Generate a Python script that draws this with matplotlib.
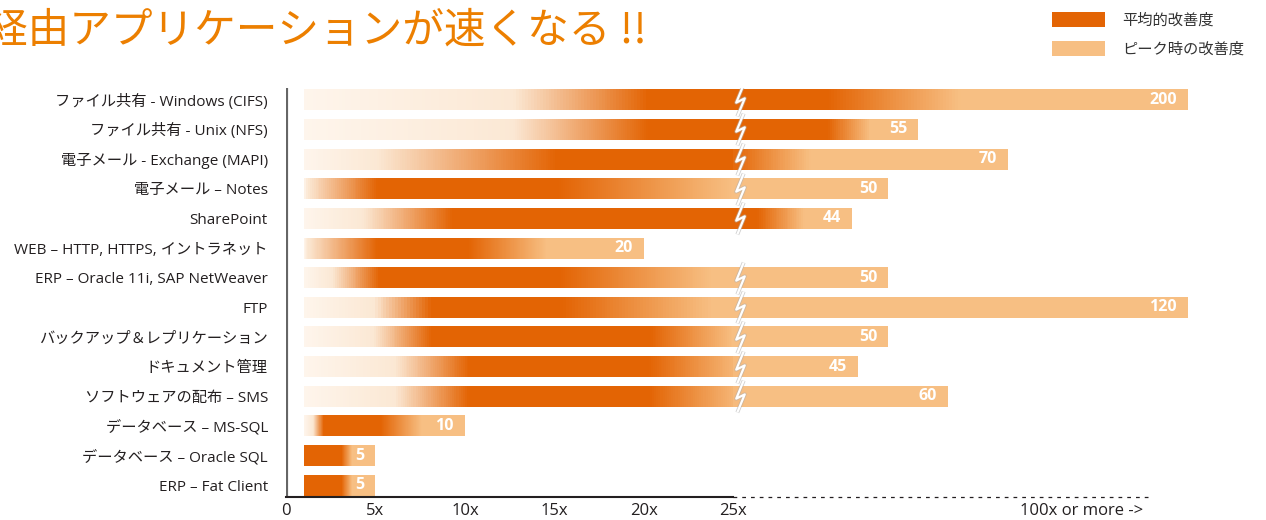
import numpy as np
import matplotlib.pyplot as plt
import matplotlib.colors as mcolors
from matplotlib.patches import Patch
from matplotlib.path import Path

plt.rcParams['font.family'] = ['Noto Sans CJK JP', 'DejaVu Sans']

## Data: applications and improvement factors (x-fold)
apps = ['ファイル共有 - Windows (CIFS)', 'ファイル共有 - Unix (NFS)',
        '電子メール - Exchange (MAPI)', '電子メール – Notes', 'SharePoint',
        'WEB – HTTP, HTTPS, イントラネット', 'ERP – Oracle 11i, SAP NetWeaver',
        'FTP', 'バックアップ＆レプリケーション', 'ドキュメント管理',
        'ソフトウェアの配布 – SMS', 'データベース – MS-SQL',
        'データベース – Oracle SQL', 'ERP – Fat Client']
peak = [200, 55, 70, 50, 44, 20, 50, 120, 50, 45, 60, 10, 5, 5]
# shading along each bar: fade in, average range (dark), where peak colour is reached
fade_in = [12.7, 12.7, 5.1, 1.2, 4.3, 1.2, 2.6, 4.9, 4.9, 6.1, 6.1, 1.5, 1.0, 1.0]
avg_lo = [20.2, 20.2, 15.1, 5.1, 9.3, 5.1, 5.2, 8.1, 8.1, 10.2, 10.2, 2.1, 1.0, 1.0]
avg_hi = [40, 40, 25, 15.2, 28.2, 10.2, 15.3, 15.5, 20.4, 20.3, 20.3, 5.3, 3.1, 3.1]
peak_from = [62, 47, 37, 25, 36, 14.6, 23.8, 23.8, 25, 26, 26, 7.6, 3.7, 3.7]

xticks = [0, 5, 10, 15, 20, 25]
xticklabels = ['0', '5x', '10x', '15x', '20x', '25x']

DARK = '#E36404'
LIGHT = '#F7BF83'
FAINT0 = '#FEF5EC'
FAINT1 = '#FBE8D4'

## Broken x axis: linear up to 25x, squeezed after, capped at 100x
BREAK, CAP = 25, 100
SQUEEZE = 0.335
GAP = 0.28

def fwd(v):
    v = np.asarray(v, dtype=float)
    return np.where(v <= BREAK, v, BREAK + GAP + (v - BREAK) * SQUEEZE)

def inv(u):
    u = np.asarray(u, dtype=float)
    return np.where(u <= BREAK, u, BREAK + np.maximum(u - BREAK - GAP, 0) / SQUEEZE)

fig = plt.figure(figsize=(12.66, 5.2), dpi=100)
ax = fig.add_axes([286 / 1266, 23 / 520, 980 / 1266, 409 / 520])
ax.set_xscale('function', functions=(fwd, inv))
ax.set_xlim(0, 113)
ax.set_ylim(len(apps) - 0.6, -0.4)

stop_rgb = np.array([mcolors.to_rgb(c) for c in [FAINT0, FAINT1, DARK, DARK, LIGHT, LIGHT]])

# zigzag break marker
zz = Path([(3, 15), (-4, -2), (4, 2), (-3, -15)],
          [Path.MOVETO, Path.LINETO, Path.LINETO, Path.LINETO])

N = 300
for i in range(len(apps)):
    end = min(peak[i], CAP)
    u_edges = np.linspace(fwd(1.0), fwd(end), N + 1)
    v_edges = inv(u_edges)
    u_mid = (u_edges[:-1] + u_edges[1:]) / 2
    stops = fwd([1.0, fade_in[i], avg_lo[i], avg_hi[i], peak_from[i], end])
    cols = np.stack([np.interp(u_mid, stops, stop_rgb[:, c]) for c in range(3)], axis=1)
    # each slice overlaps the next one a little so no seams show
    right = v_edges[np.minimum(np.arange(N) + 2, N)]
    ax.barh(i, right - v_edges[:-1], left=v_edges[:-1], height=0.71,
            color=cols, linewidth=0, antialiased=False, zorder=2)

    if peak[i] > BREAK:
        ax.plot(BREAK + 0.2, i, marker=zz, markersize=23, markerfacecolor='none',
                markeredgecolor='#b0b0b0', markeredgewidth=2.8, alpha=0.6, zorder=3)
        ax.plot(BREAK + 0.2, i, marker=zz, markersize=23, markerfacecolor='none',
                markeredgecolor='white', markeredgewidth=1.6, zorder=4)

    ax.annotate(str(peak[i]), xy=(end, i), xytext=(-8, 0), textcoords='offset points',
                ha='right', va='center', color='white', fontsize=11.5,
                fontweight='bold', family=['Open Sans', 'DejaVu Sans'], zorder=5)

## Axes lines
for s in ax.spines.values():
    s.set_visible(False)
ax.axvline(0, color='#666666', lw=3, zorder=1)
ax.plot([0, BREAK], [0, 0], color='#231F20', lw=1.5,
        transform=ax.get_xaxis_transform(), clip_on=False)
ax.plot([BREAK, 94], [0, 0], color='#231F20', lw=0.9, dashes=(3, 4),
        transform=ax.get_xaxis_transform(), clip_on=False)

ax.set_yticks(range(len(apps)))
ax.set_yticklabels(apps, fontsize=11, color='#231F20',
                   family=['Open Sans', 'Noto Sans CJK JP', 'DejaVu Sans'])
ax.tick_params(axis='y', length=0, pad=13)
ax.set_xticks(xticks)
ax.set_xticklabels(xticklabels, fontsize=12, color='#231F20',
                   family=['Open Sans', 'DejaVu Sans'])
ax.tick_params(axis='x', length=0, pad=4)
ax.minorticks_off()
ax.annotate('100x or more ->', xy=(CAP, 0), xycoords=('data', 'axes fraction'),
            xytext=(-32, -4), textcoords='offset points', ha='right', va='top',
            fontsize=12, color='#231F20', family=['Open Sans', 'DejaVu Sans'])

## Title and legend
fig.text(-14 / 1266, 1 - 31 / 520, '経由アプリケーションが速くなる !!', fontsize=30,
         color='#EC7F00', ha='left', va='center')
handles = [Patch(facecolor=DARK, edgecolor='none'), Patch(facecolor=LIGHT, edgecolor='none')]
fig.legend(handles, ['平均的改善度', 'ピーク時の改善度'], loc='upper left',
           bbox_to_anchor=(1052 / 1266, 1 - 12 / 520), frameon=False, fontsize=11,
           handlelength=3.47, handleheight=1.1, handletextpad=1.1, labelspacing=0.75,
           borderpad=0, borderaxespad=0, labelcolor='#333333')

fig.savefig('out.png', dpi=100)
